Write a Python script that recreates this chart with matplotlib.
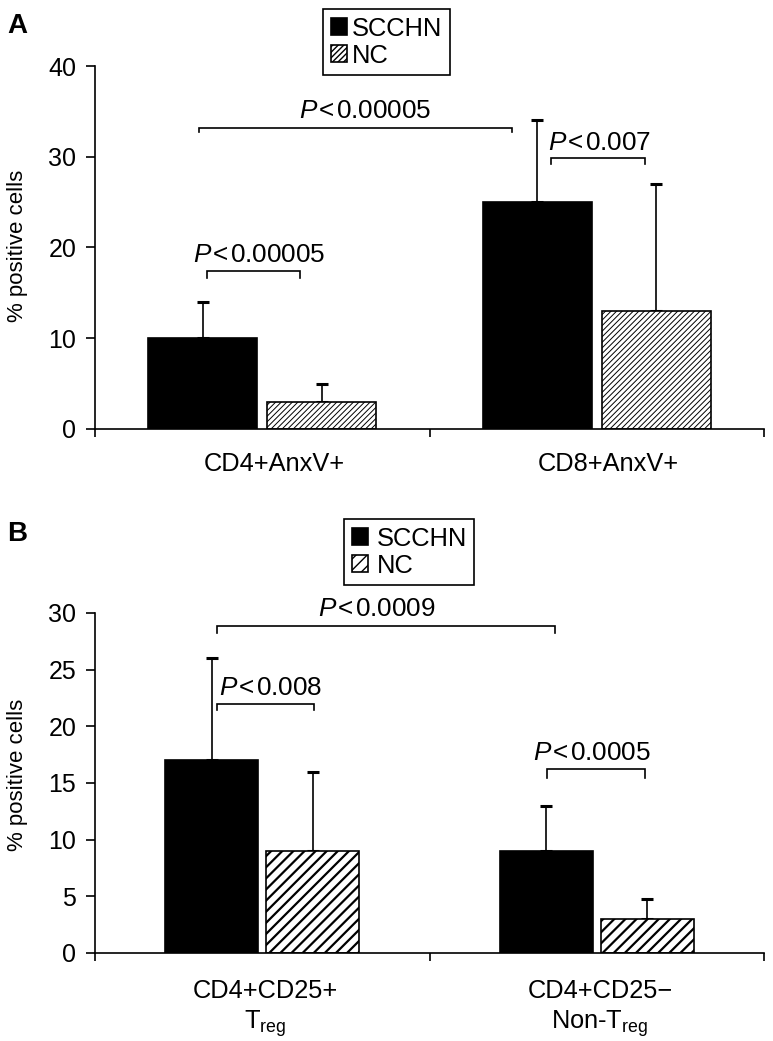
import matplotlib
matplotlib.use("Agg")
import matplotlib.pyplot as plt
import numpy as np

plt.rcParams['font.family'] = ['Liberation Sans', 'DejaVu Sans']
plt.rcParams['mathtext.fontset'] = 'custom'
plt.rcParams['mathtext.rm'] = 'Liberation Sans'
plt.rcParams['mathtext.it'] = 'Liberation Sans:italic'
plt.rcParams['mathtext.bf'] = 'Liberation Sans:bold'

# ---------------- data ----------------
groups = ["SCCHN", "NC"]

a_categories = ["CD4+AnxV+", "CD8+AnxV+"]
a_scchn = [10, 25]
a_scchn_sd = [4, 9]
a_nc = [3, 13]
a_nc_sd = [2, 14]
a_yticks = [0, 10, 20, 30, 40]

b_categories = ["CD4+CD25+\nT$_{\\mathrm{reg}}$", "CD4+CD25\u2212\nNon-T$_{\\mathrm{reg}}$"]
b_scchn = [17, 9]
b_scchn_sd = [9, 4]
b_nc = [9, 3]
b_nc_sd = [7, 1.8]
b_yticks = [0, 5, 10, 15, 20, 25, 30]

a_pvals = ["0.00005", "0.00005", "0.007"]
b_pvals = ["0.0009", "0.008", "0.0005"]

W, H = 773, 1041
fig = plt.figure(figsize=(W / 100, H / 100), dpi=100)

def px_axes(left, right, top, bottom):
    return fig.add_axes([left / W, 1 - bottom / H, (right - left) / W, (bottom - top) / H])

axA = px_axes(95, 764, 66, 429)
axB = px_axes(95, 764, 613, 953)

LW = 1.2

def style_axes(ax, yticks, ylim):
    ax.set_xlim(-0.5, 1.5)
    ax.set_ylim(*ylim)
    for s in ["top", "right"]:
        ax.spines[s].set_visible(False)
    for s in ["left", "bottom"]:
        ax.spines[s].set_linewidth(LW)
    ax.set_yticks(yticks)
    ax.tick_params(axis='y', direction='out', length=6.5, width=LW, pad=7, labelsize=18)
    ax.set_xticks([-0.5, 0.5, 1.5])
    ax.set_xticklabels([])
    ax.tick_params(axis='x', which='major', direction='out', length=5.5, width=LW)
    ax.patch.set_alpha(0)

def draw_bars(ax, scchn, scchn_sd, nc, nc_sd, offset, width, hatch, hatch_lw):
    x = np.arange(len(scchn))
    ax.bar(x - offset, scchn, width, color='black', edgecolor='black', linewidth=LW,
           label=groups[0], zorder=2)
    with plt.rc_context({'hatch.linewidth': hatch_lw, 'hatch.color': 'black'}):
        ax.bar(x + offset, nc, width, color='white', edgecolor='black', linewidth=LW,
               hatch=hatch, label=groups[1], zorder=2)
    ax.errorbar(x - offset, scchn, yerr=[np.zeros(len(scchn)), scchn_sd], fmt='none',
                ecolor='black', elinewidth=LW, capsize=4, capthick=2.2, zorder=1)
    ax.errorbar(x + offset, nc, yerr=[np.zeros(len(nc)), nc_sd], fmt='none',
                ecolor='black', elinewidth=LW, capsize=4, capthick=2.2, zorder=1)

def plabel(p):
    return "$\\mathit{P}$\u200a<\u200a" + p

def bracket(ax, x0, x1, y, drop, p, tx, ty, ha='center'):
    ax.plot([x0, x0, x1, x1], [y - drop, y, y, y - drop], color='black', lw=LW,
            solid_joinstyle='miter', clip_on=False)
    ax.text(tx, ty, plabel(p), ha=ha, va='baseline', fontsize=18.8)

# ---------------- Panel A ----------------
style_axes(axA, a_yticks, (0, 40))
draw_bars(axA, a_scchn, a_scchn_sd, a_nc, a_nc_sd, 0.178, 0.326, '//////', 0.7)
bracket(axA, -0.189, 0.747, 33.2, 0.5, a_pvals[0], 0.307, 34.3)
bracket(axA, -0.165, 0.113, 17.4, 0.8, a_pvals[1], -0.01, 18.4)
bracket(axA, 0.863, 1.144, 29.9, 0.7, a_pvals[2], 1.007, 30.7)
for i, lab in enumerate(a_categories):
    axA.text(i + 0.035, -2.5, lab, ha='center', va='top', fontsize=18.3)

legA = fig.legend(*axA.get_legend_handles_labels(), loc='upper left',
                  bbox_to_anchor=(323 / W, 1 - 9 / H), fontsize=18.4, frameon=True,
                  fancybox=False, edgecolor='black', framealpha=1, borderaxespad=0,
                  handlelength=0.62, handleheight=0.62, handletextpad=0.2,
                  borderpad=0.3, labelspacing=0.12)
legA.get_frame().set_linewidth(LW)

# ---------------- Panel B ----------------
style_axes(axB, b_yticks, (0, 30))
draw_bars(axB, b_scchn, b_scchn_sd, b_nc, b_nc_sd, 0.151, 0.278, '///', 1.6)
bracket(axB, -0.135, 0.875, 28.85, 0.6, b_pvals[0], 0.343, 29.7)
bracket(axB, -0.135, 0.155, 22.0, 0.6, b_pvals[1], -0.129, 22.8, ha='left')
bracket(axB, 0.85, 1.144, 16.2, 0.8, b_pvals[2], 0.986, 17.0)
for i, lab in enumerate(b_categories):
    axB.text(i + 0.01, -2.3, lab, ha='center', va='top', fontsize=18.3, linespacing=1.25)

legB = fig.legend(*axB.get_legend_handles_labels(), loc='upper left',
                  bbox_to_anchor=(344 / W, 1 - 519 / H), fontsize=18.4, frameon=True,
                  fancybox=False, edgecolor='black', framealpha=1, borderaxespad=0,
                  handlelength=0.62, handleheight=0.62, handletextpad=0.35,
                  borderpad=0.3, labelspacing=0.12)
legB.get_frame().set_linewidth(LW)

# y labels and panel letters
fig.text(18 / W, 1 - 246 / H, "% positive cells", rotation=90, ha='center', va='center', fontsize=16)
fig.text(18 / W, 1 - 775 / H, "% positive cells", rotation=90, ha='center', va='center', fontsize=16)
fig.text(7 / W, 1 - 13 / H, "A", ha='left', va='top', fontsize=20, fontweight='bold')
fig.text(7 / W, 1 - 521 / H, "B", ha='left', va='top', fontsize=20, fontweight='bold')

fig.savefig("out.png", dpi=100)
